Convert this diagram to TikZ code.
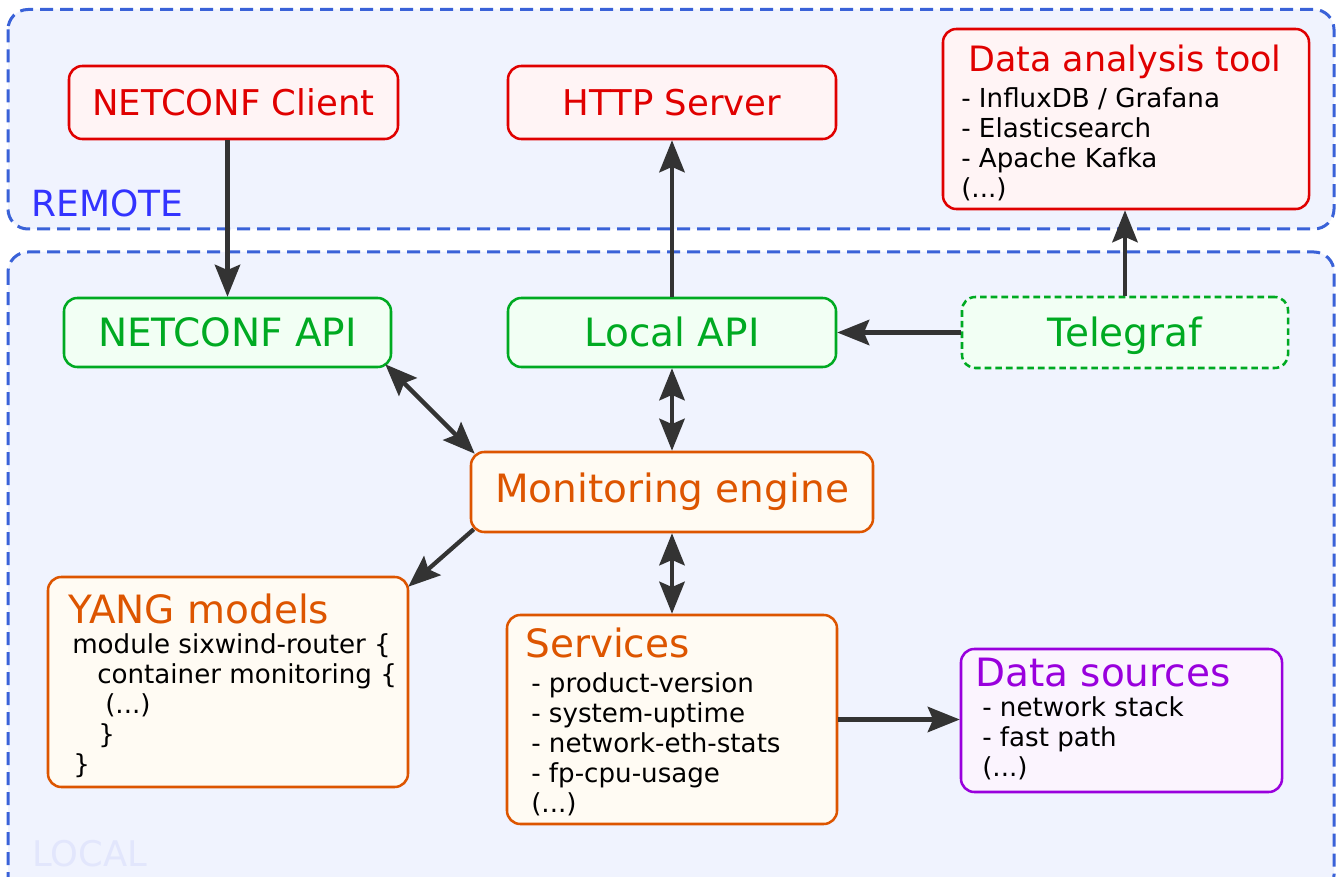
\documentclass[tikz,border=0pt]{standalone}
\usepackage{fontspec}
\setmainfont{DejaVu Sans}
\usetikzlibrary{arrows.meta}
\definecolor{zoneblue}{HTML}{3A62D8}
\definecolor{zonefill}{HTML}{F0F3FE}
\definecolor{remotetxt}{HTML}{3333FF}
\definecolor{localtxt}{HTML}{E2E6FC}
\definecolor{cred}{HTML}{E00000}
\definecolor{credfill}{HTML}{FFF4F5}
\definecolor{cgreen}{HTML}{00AA22}
\definecolor{cgreenfill}{HTML}{F2FFF4}
\definecolor{corange}{HTML}{DD5500}
\definecolor{corangefill}{HTML}{FFFBF3}
\definecolor{cpurple}{HTML}{9900DD}
\definecolor{cpurplefill}{HTML}{FBF4FE}
\definecolor{carrow}{HTML}{333333}
\tikzset{
  zone/.style={draw=zoneblue, fill=zonefill, line width=2.25pt,
    dash pattern=on 9.75pt off 5.25pt, rounded corners=15pt},
  box/.style={rounded corners=10pt, line width=1.9pt, inner sep=0pt, text depth=0pt},
  redbox/.style={box, draw=cred, fill=credfill, text=cred},
  greenbox/.style={box, draw=cgreen, fill=cgreenfill, text=cgreen},
  orangebox/.style={box, draw=corange, fill=corangefill, text=corange},
  purplebox/.style={box, draw=cpurple, fill=cpurplefill, text=cpurple},
  bigfont/.style={font=\fontsize{29.25}{35}\selectfont, text height=21.3pt},
  redfont/.style={font=\fontsize{26.6}{32}\selectfont, text height=19.4pt},
  title/.style={anchor=base west, inner sep=0pt},
  small/.style={anchor=base west, inner sep=0pt, text=black,
    font=\fontsize{19.6}{22.5}\selectfont},
  tip/.tip={Stealth[length=24pt, width=19pt, inset=4pt]},
  arr/.style={draw=carrow, line width=3.2pt, -tip},
  darr/.style={draw=carrow, line width=3.2pt, tip-tip},
}
\begin{document}
\begin{tikzpicture}[x=0.75pt, y=-0.75pt]
\clip (0,0) rectangle (1338,877);
\fill[white] (0,0) rectangle (1338,877);

% zones
\draw[zone] (8,9.5) rectangle (1334,229);
\draw[zone] (8,252) rectangle (1334,895);
\node[title, text=remotetxt, font=\fontsize{27}{32}\selectfont] (remotelbl) at (31,217) {REMOTE};
\node[title, text=localtxt, font=\fontsize{26.5}{32}\selectfont] (locallbl) at (32,866) {LOCAL};

% remote nodes
\node[redbox, redfont, minimum width=329*0.75pt, minimum height=73*0.75pt] (nclient) at (233.5,102.5) {NETCONF Client};
\node[redbox, redfont, minimum width=328*0.75pt, minimum height=73*0.75pt] (hserver) at (672,102.5) {HTTP Server};
\node[redbox, minimum width=366*0.75pt, minimum height=180*0.75pt] (dat) at (1126,119) {};
\node[title, text=cred, font=\fontsize{26.2}{32}\selectfont] (dattitle) at (968,72) {Data analysis tool};
\node[small] (dat1) at (961,108) {- InfluxDB / Grafana};
\node[small] (dat2) at (961,138) {- Elasticsearch};
\node[small] (dat3) at (961,168) {- Apache Kafka};
\node[small] (dat4) at (961,198) {(...)};

% local nodes
\node[greenbox, bigfont, minimum width=327*0.75pt, minimum height=69*0.75pt] (napi) at (227.5,332.5) {NETCONF API};
\node[greenbox, bigfont, minimum width=328*0.75pt, minimum height=69*0.75pt] (lapi) at (672,332.5) {Local API};
\node[greenbox, bigfont, dash pattern=on 5pt off 3pt, minimum width=326*0.75pt, minimum height=71*0.75pt] (tele) at (1125,332.5) {Telegraf};
\node[orangebox, bigfont, text depth=6pt, minimum width=402*0.75pt, minimum height=80*0.75pt] (mon) at (672,492) {Monitoring engine};

\node[orangebox, minimum width=360*0.75pt, minimum height=210*0.75pt] (yang) at (228,682) {};
\node[title, text=corange, bigfont] (yangtitle) at (68,623) {YANG models};
\node[small] (yang1) at (72,653) {module sixwind-router \{};
\node[small] (yang2) at (97,683) {container monitoring \{};
\node[small] (yang3) at (105,713) {(...)};
\node[small] (yang4) at (98,743) {\}};
\node[small] (yang5) at (73,773) {\}};

\node[orangebox, minimum width=330*0.75pt, minimum height=209*0.75pt] (serv) at (672,719.5) {};
\node[title, text=corange, bigfont] (servtitle) at (525,657) {Services};
\node[small] (serv1) at (531,692) {- product-version};
\node[small] (serv2) at (531,722) {- system-uptime};
\node[small] (serv3) at (531,752) {- network-eth-stats};
\node[small] (serv4) at (531,782) {- fp-cpu-usage};
\node[small] (serv5) at (531,812) {(...)};

\node[purplebox, minimum width=321*0.75pt, minimum height=143*0.75pt] (src) at (1121.5,720.5) {};
\node[title, text=cpurple, bigfont] (srctitle) at (975,686) {Data sources};
\node[small] (src1) at (982,716) {- network stack};
\node[small] (src2) at (982,746) {- fast path};
\node[small] (src3) at (982,776) {(...)};

% connectors
\draw[arr] (napi.north |- nclient.south) -- (napi.north);
\draw[arr] (lapi.north) -- (hserver.south);
\draw[arr] (tele.north) -- (tele.north |- dat.south);
\draw[arr] (tele.west) -- (lapi.east);
\draw[darr] ([shift={(-7,-4)}]napi.south east) -- ([shift={(5,3)}]mon.north west);
\draw[darr] (lapi.south) -- (mon.north);
\draw[darr] (mon.south) -- (serv.north);
\draw[arr] ([shift={(4,-4)}]mon.south west) -- ([shift={(-1,11)}]yang.north east);
\draw[arr] (serv.east) -- (serv.east -| src.west);
\end{tikzpicture}
\end{document}
